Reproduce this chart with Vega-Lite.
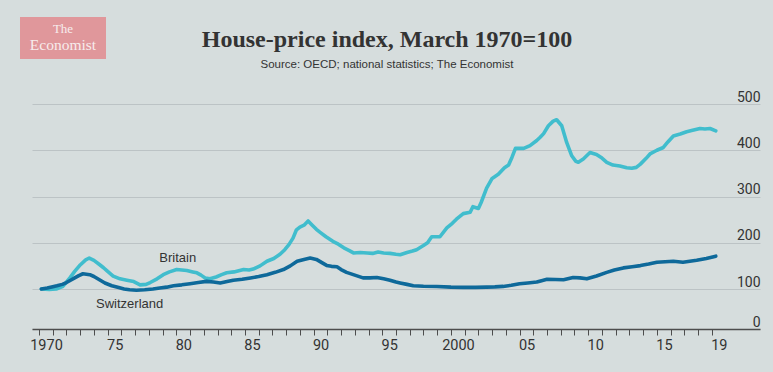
{
  "$schema": "https://vega.github.io/schema/vega-lite/v6.json",
  "width": 728,
  "height": 225,
  "autosize": "none",
  "padding": {"left": 32, "top": 104, "right": 13, "bottom": 43},
  "background": "#d6dddd",
  "config": {
    "view": {"stroke": null},
    "font": "Roboto"
  },
  "title": {
    "text": "House-price index, March 1970=100",
    "subtitle": "Source: OECD; national statistics; The Economist",
    "anchor": "middle",
    "frame": "group",
    "dx": -9,
    "offset": -53,
    "font": "Liberation Serif",
    "fontSize": 24,
    "fontWeight": "bold",
    "color": "#333333",
    "subtitleFont": "Liberation Sans",
    "subtitleFontSize": 11.5,
    "subtitleColor": "#333333",
    "subtitlePadding": 7
  },
  "datasets": {
    "series": [
      {"country": "Britain", "t": 1970.17, "v": 100},
      {"country": "Britain", "t": 1970.75, "v": 99},
      {"country": "Britain", "t": 1971.25, "v": 100},
      {"country": "Britain", "t": 1971.75, "v": 106},
      {"country": "Britain", "t": 1972.25, "v": 124},
      {"country": "Britain", "t": 1972.6, "v": 138},
      {"country": "Britain", "t": 1973.0, "v": 152},
      {"country": "Britain", "t": 1973.4, "v": 163},
      {"country": "Britain", "t": 1973.66, "v": 167},
      {"country": "Britain", "t": 1974.0, "v": 162},
      {"country": "Britain", "t": 1974.4, "v": 153},
      {"country": "Britain", "t": 1974.7, "v": 146},
      {"country": "Britain", "t": 1975.0, "v": 138},
      {"country": "Britain", "t": 1975.4, "v": 128},
      {"country": "Britain", "t": 1975.9, "v": 122},
      {"country": "Britain", "t": 1976.4, "v": 119},
      {"country": "Britain", "t": 1976.9, "v": 116},
      {"country": "Britain", "t": 1977.36, "v": 109},
      {"country": "Britain", "t": 1977.8, "v": 110},
      {"country": "Britain", "t": 1978.1, "v": 114},
      {"country": "Britain", "t": 1978.6, "v": 122},
      {"country": "Britain", "t": 1979.05, "v": 131},
      {"country": "Britain", "t": 1979.5, "v": 137},
      {"country": "Britain", "t": 1980.03, "v": 142},
      {"country": "Britain", "t": 1980.4, "v": 141},
      {"country": "Britain", "t": 1980.76, "v": 140},
      {"country": "Britain", "t": 1981.2, "v": 137},
      {"country": "Britain", "t": 1981.5, "v": 135},
      {"country": "Britain", "t": 1981.8, "v": 130},
      {"country": "Britain", "t": 1982.1, "v": 124},
      {"country": "Britain", "t": 1982.45, "v": 122},
      {"country": "Britain", "t": 1982.9, "v": 126},
      {"country": "Britain", "t": 1983.3, "v": 131},
      {"country": "Britain", "t": 1983.67, "v": 135},
      {"country": "Britain", "t": 1984.2, "v": 137},
      {"country": "Britain", "t": 1984.9, "v": 142},
      {"country": "Britain", "t": 1985.3, "v": 141},
      {"country": "Britain", "t": 1985.6, "v": 143},
      {"country": "Britain", "t": 1986.1, "v": 150},
      {"country": "Britain", "t": 1986.6, "v": 160},
      {"country": "Britain", "t": 1987.1, "v": 166},
      {"country": "Britain", "t": 1987.55, "v": 175},
      {"country": "Britain", "t": 1987.9, "v": 185},
      {"country": "Britain", "t": 1988.2, "v": 196},
      {"country": "Britain", "t": 1988.5, "v": 210},
      {"country": "Britain", "t": 1988.75, "v": 228},
      {"country": "Britain", "t": 1989.0, "v": 234},
      {"country": "Britain", "t": 1989.3, "v": 238},
      {"country": "Britain", "t": 1989.6, "v": 247},
      {"country": "Britain", "t": 1989.9, "v": 238},
      {"country": "Britain", "t": 1990.2, "v": 229},
      {"country": "Britain", "t": 1990.5, "v": 222},
      {"country": "Britain", "t": 1990.9, "v": 213},
      {"country": "Britain", "t": 1991.4, "v": 203},
      {"country": "Britain", "t": 1991.8, "v": 197},
      {"country": "Britain", "t": 1992.2, "v": 189},
      {"country": "Britain", "t": 1992.6, "v": 183},
      {"country": "Britain", "t": 1992.9, "v": 178},
      {"country": "Britain", "t": 1993.4, "v": 179},
      {"country": "Britain", "t": 1993.9, "v": 178},
      {"country": "Britain", "t": 1994.3, "v": 177},
      {"country": "Britain", "t": 1994.7, "v": 180},
      {"country": "Britain", "t": 1995.1, "v": 178},
      {"country": "Britain", "t": 1995.56, "v": 177},
      {"country": "Britain", "t": 1996.0, "v": 175},
      {"country": "Britain", "t": 1996.3, "v": 174},
      {"country": "Britain", "t": 1996.8, "v": 179},
      {"country": "Britain", "t": 1997.2, "v": 182},
      {"country": "Britain", "t": 1997.5, "v": 185},
      {"country": "Britain", "t": 1998.0, "v": 194},
      {"country": "Britain", "t": 1998.3, "v": 200},
      {"country": "Britain", "t": 1998.6, "v": 213},
      {"country": "Britain", "t": 1999.2, "v": 213},
      {"country": "Britain", "t": 1999.7, "v": 232},
      {"country": "Britain", "t": 2000.1, "v": 242},
      {"country": "Britain", "t": 2000.4, "v": 251},
      {"country": "Britain", "t": 2000.9, "v": 263},
      {"country": "Britain", "t": 2001.4, "v": 266},
      {"country": "Britain", "t": 2001.6, "v": 278},
      {"country": "Britain", "t": 2002.0, "v": 274},
      {"country": "Britain", "t": 2002.2, "v": 287},
      {"country": "Britain", "t": 2002.6, "v": 318},
      {"country": "Britain", "t": 2003.0, "v": 339},
      {"country": "Britain", "t": 2003.45, "v": 348},
      {"country": "Britain", "t": 2003.9, "v": 362},
      {"country": "Britain", "t": 2004.2, "v": 368},
      {"country": "Britain", "t": 2004.45, "v": 385},
      {"country": "Britain", "t": 2004.7, "v": 404},
      {"country": "Britain", "t": 2005.3, "v": 404},
      {"country": "Britain", "t": 2005.76, "v": 410},
      {"country": "Britain", "t": 2006.25, "v": 421},
      {"country": "Britain", "t": 2006.5, "v": 428},
      {"country": "Britain", "t": 2006.75, "v": 436},
      {"country": "Britain", "t": 2007.1, "v": 453},
      {"country": "Britain", "t": 2007.45, "v": 463},
      {"country": "Britain", "t": 2007.7, "v": 466},
      {"country": "Britain", "t": 2008.07, "v": 453},
      {"country": "Britain", "t": 2008.43, "v": 417},
      {"country": "Britain", "t": 2008.8, "v": 388},
      {"country": "Britain", "t": 2009.1, "v": 376},
      {"country": "Britain", "t": 2009.28, "v": 374},
      {"country": "Britain", "t": 2009.64, "v": 381},
      {"country": "Britain", "t": 2010.13, "v": 395},
      {"country": "Britain", "t": 2010.6, "v": 391},
      {"country": "Britain", "t": 2011.0, "v": 383},
      {"country": "Britain", "t": 2011.35, "v": 374},
      {"country": "Britain", "t": 2011.8, "v": 368},
      {"country": "Britain", "t": 2012.3, "v": 366},
      {"country": "Britain", "t": 2012.8, "v": 362},
      {"country": "Britain", "t": 2013.17, "v": 361},
      {"country": "Britain", "t": 2013.5, "v": 363},
      {"country": "Britain", "t": 2013.8, "v": 370},
      {"country": "Britain", "t": 2014.2, "v": 382},
      {"country": "Britain", "t": 2014.5, "v": 392},
      {"country": "Britain", "t": 2015.0, "v": 400},
      {"country": "Britain", "t": 2015.47, "v": 406},
      {"country": "Britain", "t": 2015.8, "v": 418},
      {"country": "Britain", "t": 2016.2, "v": 431},
      {"country": "Britain", "t": 2016.7, "v": 435},
      {"country": "Britain", "t": 2017.17, "v": 440},
      {"country": "Britain", "t": 2017.6, "v": 443},
      {"country": "Britain", "t": 2018.14, "v": 447},
      {"country": "Britain", "t": 2018.5, "v": 446},
      {"country": "Britain", "t": 2018.87, "v": 447},
      {"country": "Britain", "t": 2019.29, "v": 442},
      {"country": "Switzerland", "t": 1970.17, "v": 100},
      {"country": "Switzerland", "t": 1970.6, "v": 102},
      {"country": "Switzerland", "t": 1971.0, "v": 105},
      {"country": "Switzerland", "t": 1971.3, "v": 107},
      {"country": "Switzerland", "t": 1971.7, "v": 110},
      {"country": "Switzerland", "t": 1972.0, "v": 114},
      {"country": "Switzerland", "t": 1972.3, "v": 119},
      {"country": "Switzerland", "t": 1972.6, "v": 124},
      {"country": "Switzerland", "t": 1972.9, "v": 129},
      {"country": "Switzerland", "t": 1973.2, "v": 133},
      {"country": "Switzerland", "t": 1973.7, "v": 131},
      {"country": "Switzerland", "t": 1974.0, "v": 127},
      {"country": "Switzerland", "t": 1974.4, "v": 120},
      {"country": "Switzerland", "t": 1974.8, "v": 113},
      {"country": "Switzerland", "t": 1975.3, "v": 107},
      {"country": "Switzerland", "t": 1975.8, "v": 103},
      {"country": "Switzerland", "t": 1976.2, "v": 100},
      {"country": "Switzerland", "t": 1976.6, "v": 98},
      {"country": "Switzerland", "t": 1977.1, "v": 97},
      {"country": "Switzerland", "t": 1977.7, "v": 98},
      {"country": "Switzerland", "t": 1978.3, "v": 100},
      {"country": "Switzerland", "t": 1978.8, "v": 102},
      {"country": "Switzerland", "t": 1979.3, "v": 104},
      {"country": "Switzerland", "t": 1979.8, "v": 107},
      {"country": "Switzerland", "t": 1980.4, "v": 109},
      {"country": "Switzerland", "t": 1981.0, "v": 111.5},
      {"country": "Switzerland", "t": 1981.6, "v": 114},
      {"country": "Switzerland", "t": 1982.2, "v": 116.5},
      {"country": "Switzerland", "t": 1982.7, "v": 115},
      {"country": "Switzerland", "t": 1983.2, "v": 113},
      {"country": "Switzerland", "t": 1983.7, "v": 116},
      {"country": "Switzerland", "t": 1984.15, "v": 119},
      {"country": "Switzerland", "t": 1984.8, "v": 121},
      {"country": "Switzerland", "t": 1985.4, "v": 124},
      {"country": "Switzerland", "t": 1986.0, "v": 127},
      {"country": "Switzerland", "t": 1986.6, "v": 131},
      {"country": "Switzerland", "t": 1987.2, "v": 136},
      {"country": "Switzerland", "t": 1987.8, "v": 142},
      {"country": "Switzerland", "t": 1988.3, "v": 150},
      {"country": "Switzerland", "t": 1988.8, "v": 160},
      {"country": "Switzerland", "t": 1989.3, "v": 164},
      {"country": "Switzerland", "t": 1989.75, "v": 167},
      {"country": "Switzerland", "t": 1990.2, "v": 164},
      {"country": "Switzerland", "t": 1990.6, "v": 157},
      {"country": "Switzerland", "t": 1990.95, "v": 151},
      {"country": "Switzerland", "t": 1991.3, "v": 149},
      {"country": "Switzerland", "t": 1991.7, "v": 148},
      {"country": "Switzerland", "t": 1992.0, "v": 142},
      {"country": "Switzerland", "t": 1992.4, "v": 136},
      {"country": "Switzerland", "t": 1993.0, "v": 130},
      {"country": "Switzerland", "t": 1993.6, "v": 124},
      {"country": "Switzerland", "t": 1994.1, "v": 124},
      {"country": "Switzerland", "t": 1994.6, "v": 125},
      {"country": "Switzerland", "t": 1995.1, "v": 122},
      {"country": "Switzerland", "t": 1995.56, "v": 119},
      {"country": "Switzerland", "t": 1996.0, "v": 115},
      {"country": "Switzerland", "t": 1996.3, "v": 113},
      {"country": "Switzerland", "t": 1996.8, "v": 110},
      {"country": "Switzerland", "t": 1997.26, "v": 107},
      {"country": "Switzerland", "t": 1998.0, "v": 106},
      {"country": "Switzerland", "t": 1998.97, "v": 105.5},
      {"country": "Switzerland", "t": 2000.0, "v": 104},
      {"country": "Switzerland", "t": 2000.9, "v": 103.5},
      {"country": "Switzerland", "t": 2001.8, "v": 103.5},
      {"country": "Switzerland", "t": 2002.6, "v": 104},
      {"country": "Switzerland", "t": 2003.2, "v": 104.5},
      {"country": "Switzerland", "t": 2003.8, "v": 105.6},
      {"country": "Switzerland", "t": 2004.4, "v": 108},
      {"country": "Switzerland", "t": 2005.0, "v": 111.5},
      {"country": "Switzerland", "t": 2005.6, "v": 113},
      {"country": "Switzerland", "t": 2006.25, "v": 115},
      {"country": "Switzerland", "t": 2006.6, "v": 118},
      {"country": "Switzerland", "t": 2007.0, "v": 121},
      {"country": "Switzerland", "t": 2007.6, "v": 120.5},
      {"country": "Switzerland", "t": 2008.2, "v": 120},
      {"country": "Switzerland", "t": 2008.9, "v": 125},
      {"country": "Switzerland", "t": 2009.4, "v": 124},
      {"country": "Switzerland", "t": 2009.9, "v": 122},
      {"country": "Switzerland", "t": 2010.6, "v": 128},
      {"country": "Switzerland", "t": 2011.35, "v": 136},
      {"country": "Switzerland", "t": 2011.9, "v": 141},
      {"country": "Switzerland", "t": 2012.56, "v": 145.6},
      {"country": "Switzerland", "t": 2013.2, "v": 148},
      {"country": "Switzerland", "t": 2013.8, "v": 150.6},
      {"country": "Switzerland", "t": 2014.4, "v": 154},
      {"country": "Switzerland", "t": 2015.0, "v": 158},
      {"country": "Switzerland", "t": 2015.6, "v": 159},
      {"country": "Switzerland", "t": 2016.2, "v": 160},
      {"country": "Switzerland", "t": 2016.9, "v": 158},
      {"country": "Switzerland", "t": 2017.4, "v": 160},
      {"country": "Switzerland", "t": 2017.9, "v": 162},
      {"country": "Switzerland", "t": 2018.6, "v": 166},
      {"country": "Switzerland", "t": 2019.29, "v": 171}
    ],
    "labels": [
      {"country": "Britain", "t": 1980.1, "v": 166},
      {"country": "Switzerland", "t": 1976.6, "v": 63}
    ],
    "logo": [
      {"line1": "The", "line2": "Economist"}
    ]
  },
  "encoding": {
    "x": {
      "field": "t",
      "type": "quantitative",
      "scale": {"domain": [1969.49, 2022.51], "nice": false, "zero": false},
      "axis": {
        "title": null,
        "grid": false,
        "values": [1970,1971,1972,1973,1974,1975,1976,1977,1978,1979,1980,1981,1982,1983,1984,1985,1986,1987,1988,1989,1990,1991,1992,1993,1994,1995,1996,1997,1998,1999,2000,2001,2002,2003,2004,2005,2006,2007,2008,2009,2010,2011,2012,2013,2014,2015,2016,2017,2018,2019],
        "labelExpr": "(datum.value == 1970 || datum.value == 2000) ? toString(datum.value) : ((datum.value % 5 == 0 || datum.value == 2019) ? substring(toString(datum.value), 2, 4) : '')",
        "labelOverlap": false,
        "labelOffset": 7,
        "labelPadding": 3,
        "labelFont": "Roboto",
        "labelFontSize": 14.5,
        "labelColor": "#333333",
        "domainColor": "#4d4d4d",
        "domainWidth": 1.5,
        "tickColor": "#4d4d4d",
        "tickSize": 6,
        "tickWidth": 1
      }
    },
    "y": {
      "field": "v",
      "type": "quantitative",
      "scale": {"domain": [0, 100, 500], "range": [225, 185, 0], "nice": false, "zero": false},
      "axis": {
        "title": null,
        "orient": "right",
        "values": [0, 100, 200, 300, 400, 500],
        "domain": false,
        "ticks": false,
        "grid": true,
        "gridColor": "#bcc3c5",
        "gridWidth": 1,
        "labelAlign": "right",
        "labelBaseline": "alphabetic",
        "labelPadding": 0,
        "labelOffset": -3,
        "labelFont": "Roboto",
        "labelFontSize": 14,
        "labelColor": "#333333"
      }
    }
  },
  "layer": [
    {
      "mark": {"type": "rule", "color": "#d64a4f", "strokeWidth": 1.2},
      "encoding": {
        "x": null,
        "y": {"datum": 100, "type": "quantitative"}
      }
    },
    {
      "data": {"name": "series"},
      "transform": [{"filter": "datum.country == 'Britain'"}],
      "mark": {"type": "line", "color": "#41bdcd", "strokeWidth": 3.6, "strokeCap": "round", "strokeJoin": "round"}
    },
    {
      "data": {"name": "series"},
      "transform": [{"filter": "datum.country == 'Switzerland'"}],
      "mark": {"type": "line", "color": "#0e699a", "strokeWidth": 3.6, "strokeCap": "round", "strokeJoin": "round"}
    },
    {
      "data": {"name": "labels"},
      "mark": {"type": "text", "font": "Liberation Sans", "fontSize": 13, "color": "#333333", "align": "center", "baseline": "middle"},
      "encoding": {"text": {"field": "country"}}
    },
    {
      "data": {"name": "logo"},
      "mark": {"type": "rect", "color": "#e0979b", "opacity": 1, "x": -12, "x2": 74, "y": -87, "y2": -45},
      "encoding": {"x": null, "y": null}
    },
    {
      "data": {"name": "logo"},
      "mark": {"type": "text", "font": "Liberation Serif", "fontSize": 13, "color": "#f7ecec", "align": "center", "baseline": "alphabetic", "x": 31, "y": -71},
      "encoding": {"x": null, "y": null, "text": {"field": "line1"}}
    },
    {
      "data": {"name": "logo"},
      "mark": {"type": "text", "font": "Liberation Serif", "fontSize": 15.5, "color": "#f7ecec", "align": "center", "baseline": "alphabetic", "x": 31, "y": -54.5},
      "encoding": {"x": null, "y": null, "text": {"field": "line2"}}
    }
  ]
}
